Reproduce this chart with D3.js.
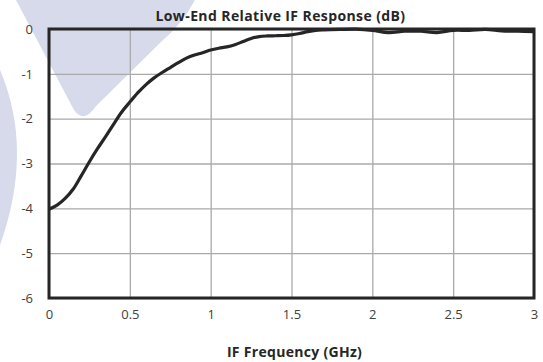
<!DOCTYPE html>
<html><head><meta charset="utf-8">
<script src="https://cdn.jsdelivr.net/npm/d3@7"></script>
<style>body{margin:0;background:#fff}svg{display:block}</style>
</head><body>
<script>
const freqGHz = [0,0.05,0.1,0.15,0.2,0.25,0.3,0.35,0.4,0.45,0.5,0.55,0.6,0.65,0.7,0.75,0.8,0.85,0.9,0.95,1.0,1.05,1.1,1.15,1.2,1.25,1.3,1.35,1.4,1.45,1.5,1.55,1.6,1.65,1.7,1.8,1.9,2.0,2.1,2.2,2.3,2.4,2.5,2.6,2.7,2.8,2.9,3.0];
const responseDb = [-4.02,-3.93,-3.78,-3.57,-3.27,-2.96,-2.67,-2.4,-2.12,-1.85,-1.63,-1.42,-1.24,-1.09,-0.97,-0.86,-0.75,-0.65,-0.58,-0.53,-0.47,-0.43,-0.4,-0.35,-0.28,-0.21,-0.17,-0.155,-0.15,-0.145,-0.13,-0.1,-0.06,-0.03,-0.02,-0.01,-0.005,-0.03,-0.08,-0.05,-0.05,-0.08,-0.03,-0.03,-0.01,-0.04,-0.05,-0.06];
const xTicks = [0,0.5,1,1.5,2,2.5,3];
const yTicks = [0,-1,-2,-3,-4,-5,-6];
const xTickLabels = ["0","0.5","1","1.5","2","2.5","3"];
const yTickLabels = ["0","-1","-2","-3","-4","-5","-6"];
const chartTitle = "Low-End Relative IF Response (dB)";
const xTitle = "IF Frequency (GHz)";

const W = 543, H = 362;
const m = {left:49, right:9, top:29, bottom:64};
const svg = d3.select("body").append("svg").attr("width",W).attr("height",H);

// faint background logo shapes
const wm = svg.append("g");
wm.append("path").attr("fill","#d6daea")
  .attr("d","M16,0 L195,0 Q182,24 163,40 L96,106 Q84,124 74,110 Z");
wm.append("path").attr("fill","#d6daea")
  .attr("d","M0,70 Q34,150 0,245 Z");

const x = d3.scaleLinear().domain([0,3]).range([m.left, W-m.right]);
const y = d3.scaleLinear().domain([-6,0]).range([H-m.bottom, m.top]);

const font = "'Open Sans', sans-serif";
const gx = svg.append("g").attr("transform",`translate(0,${H-m.bottom})`)
  .call(d3.axisBottom(x).tickValues(xTicks).tickSize(-(H-m.top-m.bottom)).tickFormat((d,i)=>xTickLabels[i]).tickPadding(12));
const gy = svg.append("g").attr("transform",`translate(${m.left},0)`)
  .call(d3.axisLeft(y).tickValues(yTicks).tickSize(-(W-m.left-m.right)).tickFormat((d,i)=>yTickLabels[i]).tickPadding(16));
[gx,gy].forEach(g=>{
  g.select(".domain").remove();
  g.selectAll(".tick line").attr("stroke","#aaaaaa").attr("stroke-width",1.3);
  g.selectAll(".tick text").attr("font-family",font).attr("font-size",13).attr("fill","#404040");
});

svg.append("rect").attr("x",m.left).attr("y",m.top).attr("width",W-m.left-m.right).attr("height",H-m.top-m.bottom)
  .attr("fill","none").attr("stroke","#262626").attr("stroke-width",3);

const data = freqGHz.map((f,i)=>({f, v:responseDb[i]}));
svg.append("path").datum(data).attr("fill","none").attr("stroke","#262626").attr("stroke-width",3.2)
  .attr("stroke-linejoin","round")
  .attr("d", d3.line().x(d=>x(d.f)).y(d=>y(d.v)).curve(d3.curveCatmullRom));

svg.append("text").attr("x",(m.left+W-m.right)/2-11).attr("y",21).attr("text-anchor","middle")
  .attr("font-family",font).attr("font-weight","bold").attr("font-size",14).attr("letter-spacing",0.4)
  .attr("fill","#262626").text(chartTitle);
svg.append("text").attr("x",(m.left+W-m.right)/2+3).attr("y",357).attr("text-anchor","middle")
  .attr("font-family",font).attr("font-weight","bold").attr("font-size",14).attr("letter-spacing",0.3)
  .attr("fill","#262626").text(xTitle);
</script>
</body></html>
